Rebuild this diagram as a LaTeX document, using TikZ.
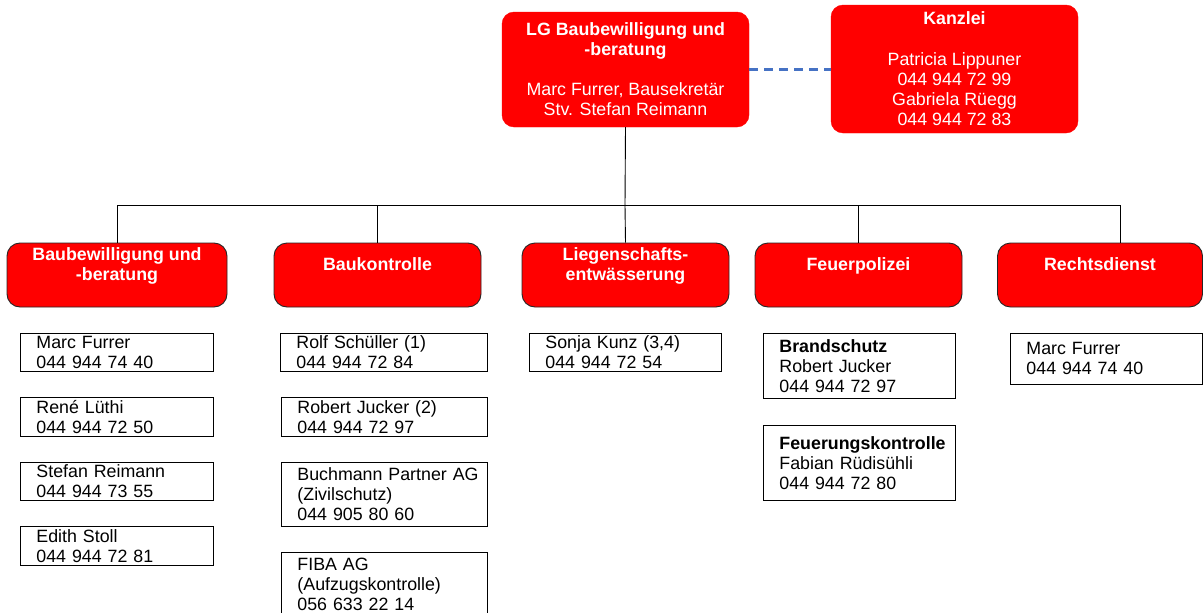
\documentclass[tikz,border=0pt]{standalone}
\usepackage{fontspec}
\setmainfont{Liberation Sans}
\definecolor{dashblue}{RGB}{70,114,196}
\begin{document}
\begin{tikzpicture}[x=1pt,y=-1pt,
  every node/.style={font=\fontsize{17.8}{20}\selectfont},
  topbox/.style={fill=red, draw=red, rounded corners=12pt, text=white, align=center, inner sep=0pt},
  unitbox/.style={fill=red, draw=black!85, line width=0.9pt, rounded corners=13pt, inner sep=0pt, minimum height=64pt},
  unitlabel/.style={text=white, font=\fontsize{17.8}{20}\selectfont\bfseries, align=center, inner sep=0pt, anchor=base},
  person/.style={draw=black, line width=0.9pt, fill=white, anchor=north west, align=left, inner xsep=16pt, inner ysep=0pt},
  link/.style={draw=black, line width=0.9pt},
  dashlink/.style={color=dashblue, line width=2.2pt, dash pattern=on 9pt off 6pt}]
\useasboundingbox[fill=white] (0,0) rectangle (1203,613);

% top boxes
\node[topbox, minimum width=247pt, minimum height=115pt] (lg) at (625.5,69.5)
  {\textbf{LG Baubewilligung und}\\\textbf{-beratung}\\[20pt]Marc Furrer, Bausekretär\\Stv. Stefan Reimann};
\node[topbox, minimum width=247pt, minimum height=128pt] (kz) at (954.5,69)
  {\textbf{Kanzlei}\\[21pt]Patricia Lippuner\\044 944 72 99\\Gabriela Rüegg\\044 944 72 83};
\draw[dashlink] (lg.east) -- (lg.east -| kz.west);

% unit boxes
\node[unitbox, minimum width=220pt] (b1) at (117,275) {};
\node[unitbox, minimum width=207pt] (b2) at (377.5,275) {};
\node[unitbox, minimum width=207pt] (b3) at (625.5,275) {};
\node[unitbox, minimum width=207pt] (b4) at (858.5,275) {};
\node[unitbox, minimum width=205pt] (b5) at (1100,275) {};

\node[unitlabel] (l1) at (117,280.5) {Baubewilligung und\\-beratung};
\node[unitlabel] (l2) at (377.5,270.5) {Baukontrolle};
\node[unitlabel] (l3) at (625.5,280.5) {Liegenschafts-\\entwässerung};
\node[unitlabel] (l4) at (858.5,270.5) {Feuerpolizei};
\node[unitlabel] (l5) at (1100,270.5) {Rechtsdienst};

% connectors
\coordinate (bus) at (625,205);
\draw[link] (lg.south) -- (bus);
\draw[link] (b1.north) |- (bus);
\draw[link] (b2.north) |- (bus);
\draw[link] (b3.north) -- (bus);
\draw[link] (b4.north) |- (bus);
\draw[link] ([xshift=20pt]b5.north) |- (bus);

% column 1
\node[person, text width=161pt, minimum height=38pt] (p11) at (20,333) {Marc Furrer\\044 944 74 40};
\node[person, text width=161pt, minimum height=39pt] (p12) at (20,397) {René Lüthi\\044 944 72 50};
\node[person, text width=161pt, minimum height=38pt] (p13) at (20,462) {Stefan Reimann\\044 944 73 55};
\node[person, text width=161pt, minimum height=39pt] (p14) at (20,526) {Edith Stoll\\044 944 72 81};

% column 2
\node[person, text width=175pt, minimum height=38pt] (p21) at (280,333) {Rolf Schüller (1)\\044 944 72 84};
\node[person, text width=174pt, minimum height=39pt] (p22) at (281,397) {Robert Jucker (2)\\044 944 72 97};
\node[person, text width=174pt, minimum height=64pt] (p23) at (281,462) {\mbox{Buchmann Partner AG}\\(Zivilschutz)\\044 905 80 60};
\node[person, text width=174pt, minimum height=64pt] (p24) at (281,552) {FIBA AG\\(Aufzugskontrolle)\\056 633 22 14};

% column 3
\node[person, text width=160pt, minimum height=38pt] (p31) at (529,333) {Sonja Kunz (3,4)\\044 944 72 54};

% column 4
\node[person, text width=160pt, minimum height=65pt] (p41) at (763,333) {\textbf{Brandschutz}\\Robert Jucker\\044 944 72 97};
\node[person, text width=160pt, minimum height=75pt] (p42) at (763,425) {\mbox{\textbf{Feuerungskontrolle}}\\Fabian Rüdisühli\\044 944 72 80};

% column 5
\node[person, text width=160pt, minimum height=51pt] (p51) at (1010,333) {Marc Furrer\\044 944 74 40};
\end{tikzpicture}
\end{document}
